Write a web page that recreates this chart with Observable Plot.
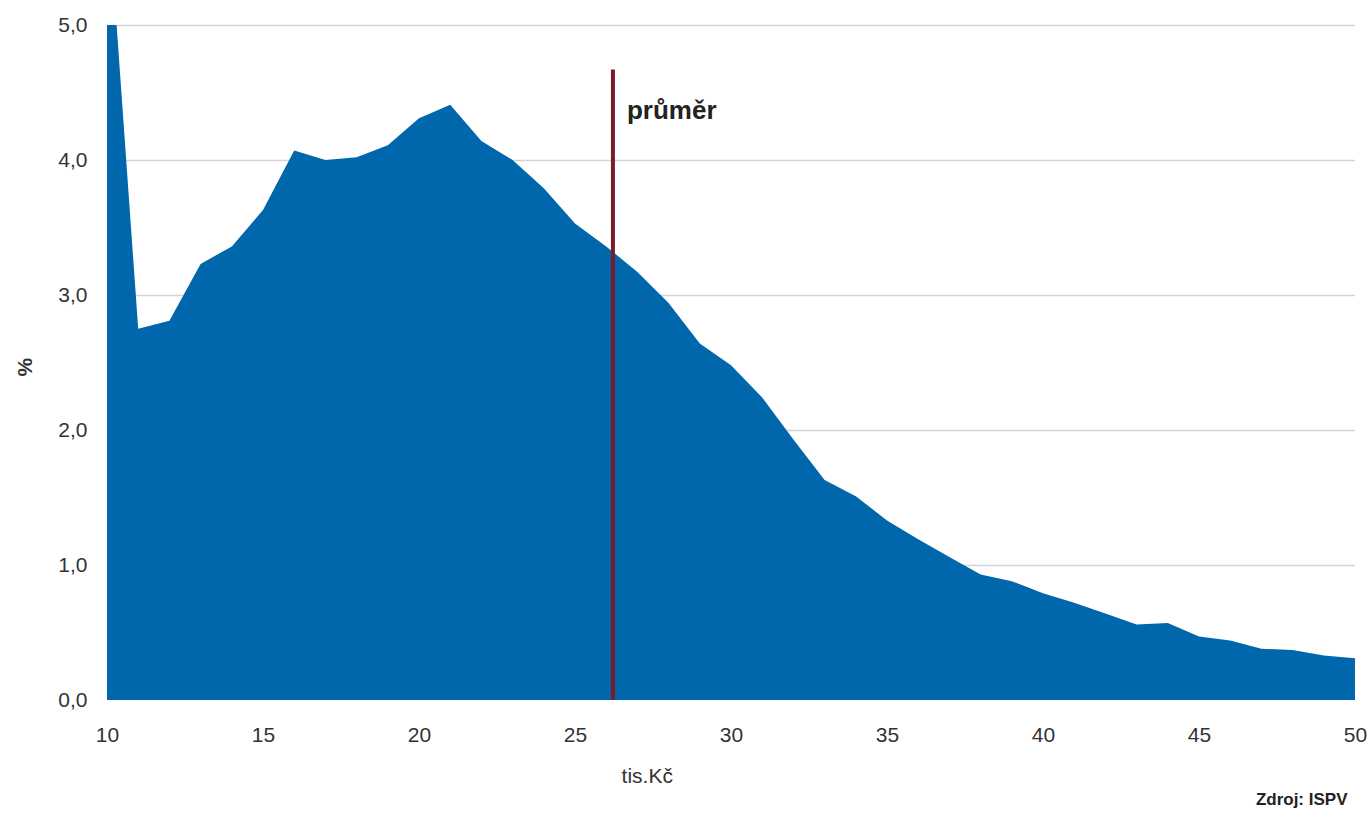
<!DOCTYPE html>
<html>
<head>
<meta charset="utf-8">
<script src="https://cdn.jsdelivr.net/npm/d3@7"></script>
<script src="https://cdn.jsdelivr.net/npm/@observablehq/plot@0.6"></script>
<style>
  html, body { margin: 0; padding: 0; background: #fff; }
  #chart svg { display: block; }
</style>
</head>
<body>
<div id="chart"></div>
<script>
// Wage (tis. Kč) and share of employees (%)
const wages = [10,11,12,13,14,15,16,17,18,19,20,21,22,23,24,25,26,27,28,29,30,
               31,32,33,34,35,36,37,38,39,40,41,42,43,44,45,46,47,48,49,50];
const shares = [6.0,2.75,2.81,3.23,3.36,3.63,4.07,4.0,4.02,4.11,4.31,4.41,4.14,4.0,3.79,3.53,3.36,3.17,2.94,2.64,2.48,
                2.24,1.93,1.63,1.51,1.33,1.19,1.06,0.93,0.88,0.79,0.72,0.64,0.56,0.57,0.47,0.44,0.38,0.37,0.33,0.31];
const meanWage = 26.2;
const meanLabel = "průměr";
const xTicks = [10,15,20,25,30,35,40,45,50];
const yTicks = [0,1,2,3,4,5];
const yTickLabels = ["0,0","1,0","2,0","3,0","4,0","5,0"];
const xLabel = "tis.Kč";
const yLabel = "%";
const source = "Zdroj: ISPV";

const data = wages.map((w, i) => ({wage: w, share: shares[i]}));

const chart = Plot.plot({
  width: 1369,
  height: 816,
  marginLeft: 107,
  marginRight: 14,
  marginTop: 25,
  marginBottom: 116,
  style: {fontFamily: "'Liberation Sans', Arial, sans-serif", color: "#333", background: "#fff"},
  x: {domain: [10, 50], label: null},
  y: {domain: [0, 5], label: null},
  marks: [
    Plot.gridY(yTicks.filter(d => d > 0), {stroke: "#d4d4d4", strokeOpacity: 1, strokeWidth: 1.5}),
    Plot.areaY(data, {x: "wage", y: "share", fill: "#0067ad", clip: true}),
    Plot.ruleX([meanWage], {y1: 0, y2: 4.67, stroke: "#7a1c2c", strokeWidth: 4}),
    Plot.text([meanLabel], {x: meanWage, y: 4.37, text: d => d, textAnchor: "start", dx: 14,
      fontSize: 26, fontWeight: "bold", fill: "#222"}),
    Plot.axisX({ticks: xTicks, tickSize: 0, tickPadding: 27, fontSize: 21, label: null}),
    Plot.axisY({ticks: yTicks, tickSize: 0, tickPadding: 20, fontSize: 21, label: null,
      tickFormat: (d) => yTickLabels[yTicks.indexOf(d)]}),
    Plot.text([xLabel], {x: 27.3, y: -0.56, text: d => d, fontSize: 21, fill: "#333"}),
    Plot.text([yLabel], {y: 2.4, frameAnchor: "left", dx: -82, rotate: -90, text: d => d, fontSize: 21,
      fontWeight: "bold", fill: "#333"}),
    Plot.text([source], {frameAnchor: "bottom-right", dx: -8, dy: 104, textAnchor: "end",
      text: d => d, fontSize: 17, fontWeight: "bold", fill: "#222"})
  ]
});
document.getElementById("chart").appendChild(chart);
</script>
</body>
</html>
